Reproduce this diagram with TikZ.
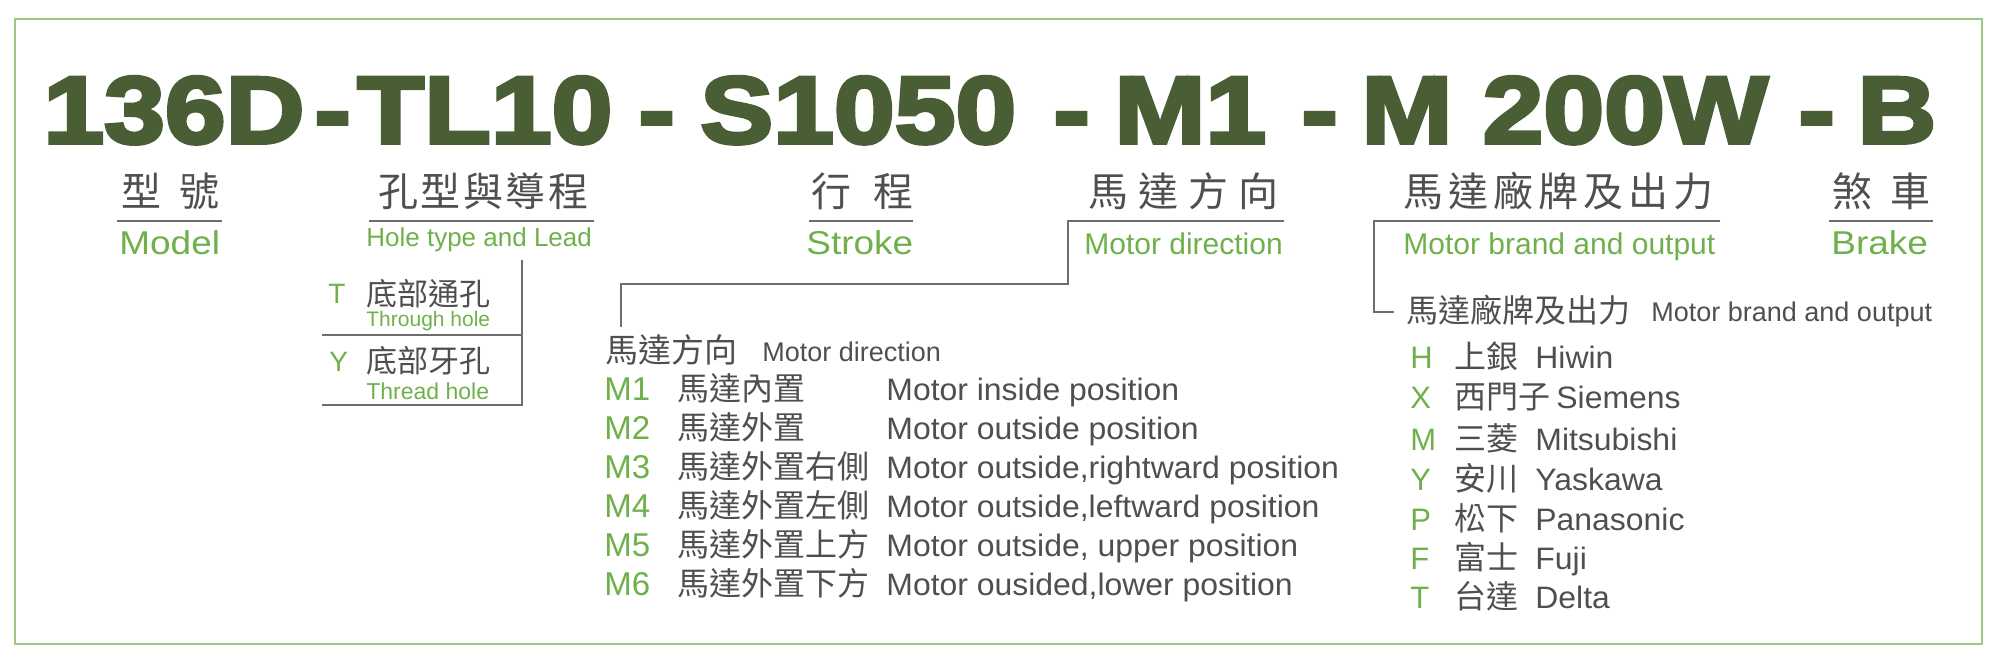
\documentclass[tikz,border=0pt]{standalone}
\usepackage{fontspec}
\setmainfont{Liberation Sans}
\newfontfamily\titlefont{Liberation Sans Bold}[FakeBold=4,FakeStretch=1.15]
\newfontfamily\widefont{Liberation Sans}[FakeStretch=1.12]
\newfontfamily\rowfont{Liberation Sans}[FakeStretch=1.03]
\newfontfamily\cjk{Noto Sans CJK TC}
\newcommand\fs[1]{\fontsize{#1}{#1}\selectfont}
\definecolor{titlegreen}{HTML}{4A5E36}
\definecolor{leafgreen}{HTML}{6FB04A}
\definecolor{framegreen}{HTML}{9DC883}
\definecolor{inkgray}{HTML}{4F4F4F}
\definecolor{linegray}{HTML}{6E6E6E}
\begin{document}
\begin{tikzpicture}[x=0.5pt, y=-0.5pt,
  codepart/.style={anchor=base west, inner sep=0pt, text=titlegreen, font=\titlefont\fs{47.5pt}},
  headzh/.style={anchor=base west, inner sep=0pt, text=inkgray, font=\cjk\fs{20pt}},
  subgreen/.style={anchor=base west, inner sep=0pt, text=leafgreen, font=\fs{15pt}},
  keyletter/.style={anchor=base west, inner sep=0pt, text=leafgreen, font=\fs{16.5pt}},
  itemzh/.style={anchor=base west, inner sep=0pt, text=inkgray, font=\cjk\fs{16pt}},
  itemen/.style={anchor=base west, inner sep=0pt, text=inkgray, font=\rowfont\fs{15.5pt}},
  bracket/.style={draw=linegray, line width=0.6pt},
  outerframe/.style={draw=framegreen, line width=1pt}]
  \useasboundingbox (0,0) rectangle (2010,660);
  \draw[outerframe] (15,19) rectangle (1982,644);

  % model code
  \node[codepart] (c0) at (43,143) {136D};
  \node[codepart] (c1) at (314,143) {-};
  \node[codepart] (c2) at (357,143) {TL10};
  \node[codepart] (c3) at (638,143) {-};
  \node[codepart] (c4) at (700,143) {S1050};
  \node[codepart] (c5) at (1053,143) {-};
  \node[codepart] (c6) at (1114,143) {M1};
  \node[codepart] (c7) at (1301,143) {-};
  \node[codepart] (c8) at (1361,143) {M 200W};
  \node[codepart] (c9) at (1798,143) {-};
  \node[codepart] (c10) at (1857,143) {B};

  % headings
  \node[headzh] (h0) at (121,206) {型\hspace{9pt}號};
  \node[headzh] (h1) at (378,206) {孔\hspace{1.2pt}型\hspace{1.2pt}與\hspace{1.2pt}導\hspace{1.2pt}程};
  \node[headzh] (h2) at (811,206) {行\hspace{11pt}程};
  \node[headzh] (h3) at (1088,206) {馬\hspace{5pt}達\hspace{5pt}方\hspace{5pt}向};
  \node[headzh] (h4) at (1403,206) {馬\hspace{2.5pt}達\hspace{2.5pt}廠\hspace{2.5pt}牌\hspace{2.5pt}及\hspace{2.5pt}出\hspace{2.5pt}力};
  \node[headzh] (h5) at (1832,206) {煞\hspace{9pt}車};

  \coordinate (u0a) at (117,221);
  \coordinate (u0b) at (222,221);
  \coordinate (u1a) at (369,221);
  \coordinate (u1b) at (594,221);
  \coordinate (u2a) at (809,221);
  \coordinate (u2b) at (913,221);
  \coordinate (u5a) at (1829,221);
  \coordinate (u5b) at (1933,221);
  \draw[bracket] (u0a) -- (u0b);
  \draw[bracket] (u1a) -- (u1b);
  \draw[bracket] (u2a) -- (u2b);
  \draw[bracket] (u5a) -- (u5b);

  \node[subgreen, font=\widefont\fs{16.5pt}] (s0) at (119,254) {Model};
  \node[subgreen, font=\fs{13pt}] (s1) at (366,246) {Hole type and Lead};
  \node[subgreen, font=\widefont\fs{16.5pt}] (s2) at (806,254) {Stroke};
  \node[subgreen] (s3) at (1084,254) {Motor direction};
  \node[subgreen] (s4) at (1403,254) {Motor brand and output};
  \node[subgreen, font=\widefont\fs{16.5pt}] (s5) at (1831,254) {Brake};

  % hole type
  \node[keyletter, font=\fs{14pt}] (t0) at (328,303) {T};
  \node[itemzh, font=\cjk\fs{15.5pt}] (t1) at (366,305) {底部通孔};
  \node[subgreen, font=\fs{10.5pt}] (t2) at (366,326) {Through hole};
  \node[keyletter, font=\fs{14pt}] (y0) at (329,371) {Y};
  \node[itemzh, font=\cjk\fs{15.5pt}] (y1) at (366,372) {底部牙孔};
  \node[subgreen, font=\fs{11.5pt}] (y2) at (366,399) {Thread hole};
  \coordinate (b0) at (522,260);
  \coordinate (b1) at (522,405);
  \coordinate (b2) at (322,405);
  \coordinate (b3) at (322,335);
  \coordinate (b4) at (522,335);
  \draw[bracket] (b0) -- (b1) -- (b2);
  \draw[bracket] (b3) -- (b4);

  % motor direction
  \coordinate (d0) at (1284,221);
  \coordinate (d1) at (1068,221);
  \coordinate (d2) at (1068,284);
  \coordinate (d3) at (621,284);
  \coordinate (d4) at (621,327);
  \draw[bracket] (d0) -- (d1) -- (d2) -- (d3) -- (d4);
  \node[itemzh, font=\cjk\fs{16.5pt}] (mh0) at (605,362) {馬達方向};
  \node[itemen, font=\fs{13.5pt}] (mh1) at (762,361) {Motor direction};
  \foreach \c/\zh/\en [count=\i from 0] in {M1/馬達內置/Motor inside position,
      M2/馬達外置/Motor outside position,
      {M3/馬達外置右側/Motor outside{,}rightward position},
      {M4/馬達外置左側/Motor outside{,}leftward position},
      {M5/馬達外置上方/Motor outside{,} upper position},
      {M6/馬達外置下方/Motor ousided{,}lower position}}{
    \node[keyletter] (m\i) at (604,{400+39*\i}) {\c};
    \node[itemzh] (mz\i) at (677,{400+39*\i}) {\zh};
    \node[itemen] (me\i) at (886,{400+39*\i}) {\en};
  }

  % motor brand
  \coordinate (r0) at (1720,221);
  \coordinate (r1) at (1374,221);
  \coordinate (r2) at (1374,312);
  \coordinate (r3) at (1394,312);
  \draw[bracket] (r0) -- (r1) -- (r2) -- (r3);
  \node[itemzh] (bh0) at (1406,322) {馬達廠牌及出力};
  \node[itemen, font=\fs{13.5pt}] (bh1) at (1651,321) {Motor brand and output};
  \foreach \c/\zh/\en/\y/\ex [count=\i from 0] in {H/上銀/Hiwin/368/1535,
      X/西門子/Siemens/408/1556, M/三菱/Mitsubishi/450/1535, Y/安川/Yaskawa/490/1535,
      P/松下/Panasonic/530/1535, F/富士/Fuji/569/1535, T/台達/Delta/608/1535}{
    \node[keyletter, font=\fs{15.5pt}] (k\i) at (1410,\y) {\c};
    \node[itemzh] (kz\i) at (1454,\y) {\zh};
    \node[itemen] (ke\i) at (\ex,\y) {\en};
  }
\end{tikzpicture}
\end{document}
